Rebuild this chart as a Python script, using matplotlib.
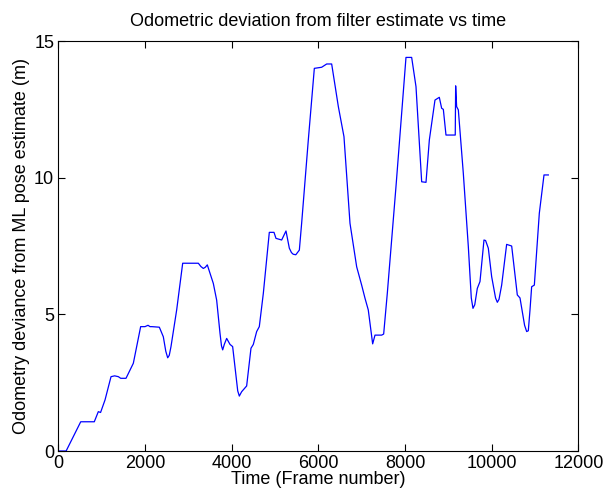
import numpy as np
import matplotlib
matplotlib.use("Agg")
import matplotlib.pyplot as plt

# frame number vs odometry deviance (m)
frame = [0, 180, 517, 830, 923, 975, 1078, 1216, 1300, 1385, 1440, 1562, 1731,
         1900, 2000, 2070, 2116, 2160, 2331, 2423, 2480, 2524, 2560, 2600, 2731,
         2870, 3231, 3290, 3346, 3390, 3438, 3577, 3654, 3731, 3765, 3793, 3830,
         3885, 3962, 4023, 4140, 4177, 4200, 4231, 4346, 4446, 4500, 4577, 4638,
         4731, 4869, 4977, 5023, 5154, 5254, 5331, 5380, 5420, 5480, 5562, 5615,
         5769, 5908, 6077, 6193, 6308, 6462, 6592, 6731, 6885, 7000, 7077, 7153,
         7254, 7308, 7462, 7508, 7592, 7792, 8023, 8154, 8254, 8385, 8485, 8562,
         8692, 8792, 8846, 8885, 8946, 9160, 9169, 9192, 9231, 9346, 9462, 9530,
         9569, 9610, 9669, 9731, 9823, 9860, 9923, 10000, 10090, 10131, 10170,
         10231, 10346, 10462, 10592, 10654, 10760, 10808, 10846, 10885, 10923,
         10985, 11100, 11208, 11308]
dev = [0.0, 0.0, 1.07, 1.07, 1.44, 1.41, 1.87, 2.72, 2.75, 2.72, 2.66, 2.66, 3.21,
       4.55, 4.55, 4.6, 4.55, 4.55, 4.53, 4.18, 3.65, 3.41, 3.5, 3.82, 5.16,
       6.87, 6.87, 6.75, 6.68, 6.72, 6.81, 6.13, 5.52, 4.31, 3.85, 3.70, 3.9,
       4.12, 3.90, 3.82, 2.2, 2.01, 2.08, 2.17, 2.38, 3.76, 3.9, 4.37, 4.55,
       5.77, 8.00, 8.00, 7.78, 7.72, 8.05, 7.42, 7.26, 7.20, 7.18, 7.35, 8.33,
       11.38, 14.0, 14.04, 14.16, 14.16, 12.6, 11.5, 8.33, 6.74, 6.07, 5.59, 5.16,
       3.92, 4.24, 4.24, 4.28, 5.77, 9.67, 14.4, 14.4, 13.33, 9.85, 9.83, 11.38,
       12.84, 12.94, 12.54, 12.5, 11.56, 11.56, 13.36, 12.6, 12.48, 10.16, 7.47, 5.6,
       5.22, 5.35, 5.95, 6.2, 7.72, 7.7, 7.42, 6.38, 5.6, 5.44, 5.55,
       6.07, 7.56, 7.5, 5.71, 5.6, 4.6, 4.37, 4.4, 5.16, 6.01,
       6.07, 8.70, 10.10, 10.1]

plt.rcParams['font.family'] = ['Liberation Sans', 'DejaVu Sans']

fig = plt.figure(figsize=(6.05, 4.96), dpi=100)
ax = fig.add_axes([0.0964, 0.0907, 0.8595, 0.8266])
ax.plot(frame, dev, color='#0000ff', linewidth=0.9)

ax.set_xlim(0, 12000)
ax.set_ylim(0, 15)
ax.set_xticks(np.arange(0, 12001, 2000))
ax.set_yticks([0, 5, 10, 15])
ax.tick_params(direction='in', top=True, right=True, length=5, width=0.8,
               labelsize=13, pad=3)
for s in ax.spines.values():
    s.set_linewidth(0.8)

ax.set_title('Odometric deviation from filter estimate vs time', fontsize=13, pad=11)
ax.set_xlabel('Time (Frame number)', fontsize=13, labelpad=-1)
ax.set_ylabel('Odometry deviance from ML pose estimate (m)', fontsize=13, labelpad=3)

fig.savefig('out.png', dpi=100)
